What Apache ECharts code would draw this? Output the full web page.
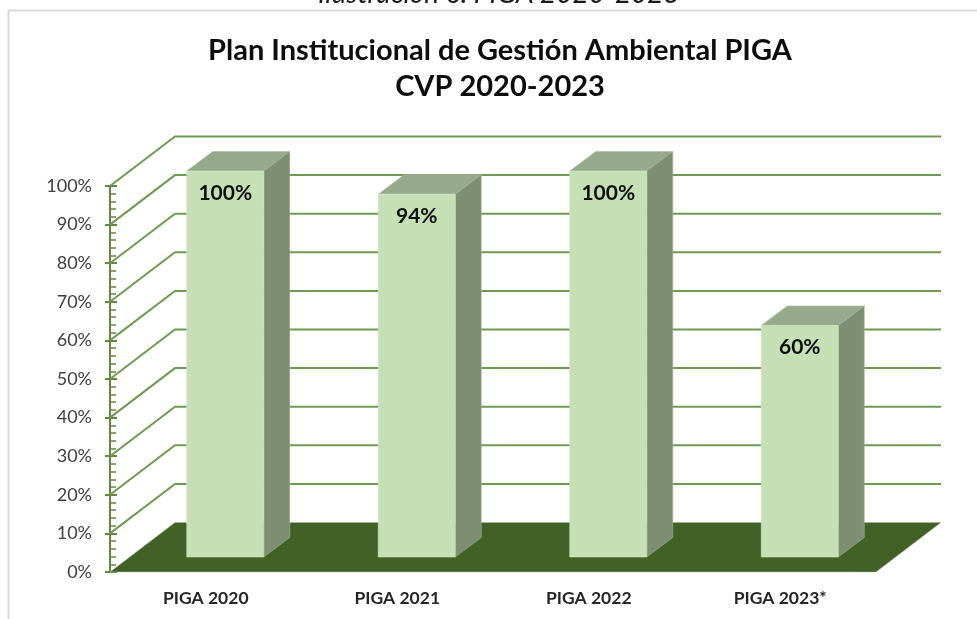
<!DOCTYPE html>
<html>
<head>
<meta charset="utf-8">
<title>PIGA</title>
<style>
  html, body { margin: 0; padding: 0; background: #fff; }
  #chart { width: 977px; height: 619px; }
</style>
<script src="https://cdn.jsdelivr.net/npm/echarts@6/dist/echarts.min.js"></script>
</head>
<body>
<div id="chart"></div>
<script>
var categories = ['PIGA 2020', 'PIGA 2021', 'PIGA 2022', 'PIGA 2023*'];
var values = [100, 94, 100, 60];
var gridValues = [10, 20, 30, 40, 50, 60, 70, 80, 90, 100];

// desplazamiento de la pared del fondo y de las caras de la barra
var wallDx = 65, wallDy = -49.5;
var frontDx = 19.5, frontDy = -15;
var sideDx = 26, sideDy = -19.5;
var barWidth = 77;

var myChart = echarts.init(document.getElementById('chart'));

function renderWall(params, api) {
    var y = api.coord([0, api.value(0)])[1];
    var g = params.coordSys;
    return {
        type: 'polyline',
        shape: { points: [[g.x, y], [g.x + wallDx, y + wallDy], [g.x + g.width + wallDx, y + wallDy]] },
        style: { stroke: '#6f9a52', fill: null, lineWidth: 2 }
    };
}

function renderFloor(params, api) {
    var y = api.coord([0, api.value(0)])[1];
    var g = params.coordSys;
    return {
        type: 'polygon',
        shape: { points: [[g.x, y], [g.x + wallDx, y + wallDy], [g.x + g.width + wallDx, y + wallDy], [g.x + g.width, y]] },
        style: { fill: '#426127', stroke: '#a9b89b', lineWidth: 0.5 }
    };
}

function renderBar(params, api) {
    var v = api.value(1);
    var p0 = api.coord([api.value(0), 0]);
    var p1 = api.coord([api.value(0), v]);
    var x0 = p0[0] + frontDx - barWidth / 2;
    var x1 = x0 + barWidth;
    var yb = p0[1] + frontDy;
    var yt = p1[1] + frontDy;
    return {
        type: 'group',
        children: [
            {
                type: 'polygon',
                shape: { points: [[x0, yt], [x0 + sideDx, yt + sideDy], [x1 + sideDx, yt + sideDy], [x1, yt]] },
                style: { fill: '#96a98a', stroke: '#aebba5', lineWidth: 0.6 }
            },
            {
                type: 'polygon',
                shape: { points: [[x1, yt], [x1 + sideDx, yt + sideDy], [x1 + sideDx, yb + sideDy], [x1, yb]] },
                style: { fill: '#7e8e70', stroke: '#a3b096', lineWidth: 0.6 }
            },
            {
                type: 'polygon',
                shape: { points: [[x0, yt], [x1, yt], [x1, yb], [x0, yb]] },
                style: { fill: '#c5e0b4', stroke: '#d3e6c6', lineWidth: 0.6 }
            },
            {
                type: 'text',
                style: {
                    text: v + '%',
                    x: (x0 + x1) / 2,
                    y: yt + 22,
                    align: 'center',
                    verticalAlign: 'middle',
                    fill: '#0d0d0d',
                    font: 'bold 21px Lato'
                }
            }
        ]
    };
}

option = {
    animation: false,
    backgroundColor: '#ffffff',
    title: {
        text: 'Plan Institucional de Gestión Ambiental PIGA\nCVP 2020-2023',
        left: 495,
        top: 28,
        textAlign: 'center',
        textStyle: { fontFamily: 'Lato', fontWeight: 'bold', fontSize: 29, lineHeight: 36, color: '#0d0d0d' }
    },
    graphic: [
        {
            type: 'text',
            left: 318,
            top: -20,
            style: { text: 'Ilustración 6. PIGA 2020-2023', fill: '#1a1a1a', font: 'italic 28px Lato' }
        },
        {
            type: 'polyline',
            shape: { points: [[8.5, 619], [8.5, 10.5], [977, 10.5]] },
            style: { stroke: '#d9d9d9', fill: null, lineWidth: 2 }
        }
    ],
    grid: { left: 110, right: 101, top: 186, bottom: 47 },
    xAxis: {
        type: 'category',
        data: categories,
        axisLine: { show: false },
        axisTick: { show: false },
        axisLabel: { margin: 17, color: '#262626', fontFamily: 'Lato', fontWeight: 'bold', fontSize: 17.5 }
    },
    yAxis: [
        {
            type: 'value',
            min: 0,
            max: 100,
            interval: 10,
            splitLine: { show: false },
            axisLine: { show: true, lineStyle: { color: '#5f8a3c', width: 2 } },
            axisTick: { show: true, length: 5, lineStyle: { color: '#5f8a3c', width: 2 } },
            axisLabel: { margin: 18, padding: [6, 0, 0, 0], formatter: '{value}%', color: '#404040', fontFamily: 'Lato', fontSize: 18 }
        },
        {
            type: 'value',
            min: 0,
            max: 100,
            interval: 10,
            position: 'left',
            splitLine: { show: false },
            axisLine: { show: false },
            axisTick: { show: true, inside: true, length: 7, lineStyle: { color: '#5f8a3c', width: 2 } },
            minorTick: { show: true, splitNumber: 5, length: 6, lineStyle: { color: '#5f8a3c', width: 1.5 } },
            axisLabel: { show: false }
        }
    ],
    series: [
        {
            type: 'custom',
            name: 'pared',
            coordinateSystem: 'cartesian2d',
            renderItem: renderWall,
            encode: { y: 0 },
            data: gridValues.map(function (v) { return [v]; }),
            silent: true,
            z: 1
        },
        {
            type: 'custom',
            name: 'piso',
            coordinateSystem: 'cartesian2d',
            renderItem: renderFloor,
            encode: { y: 0 },
            data: [[0]],
            silent: true,
            z: 2
        },
        {
            type: 'custom',
            name: 'PIGA',
            coordinateSystem: 'cartesian2d',
            renderItem: renderBar,
            encode: { x: 0, y: 1 },
            data: values.map(function (v, i) { return [i, v]; }),
            z: 3
        }
    ]
};

myChart.setOption(option);
</script>
</body>
</html>
